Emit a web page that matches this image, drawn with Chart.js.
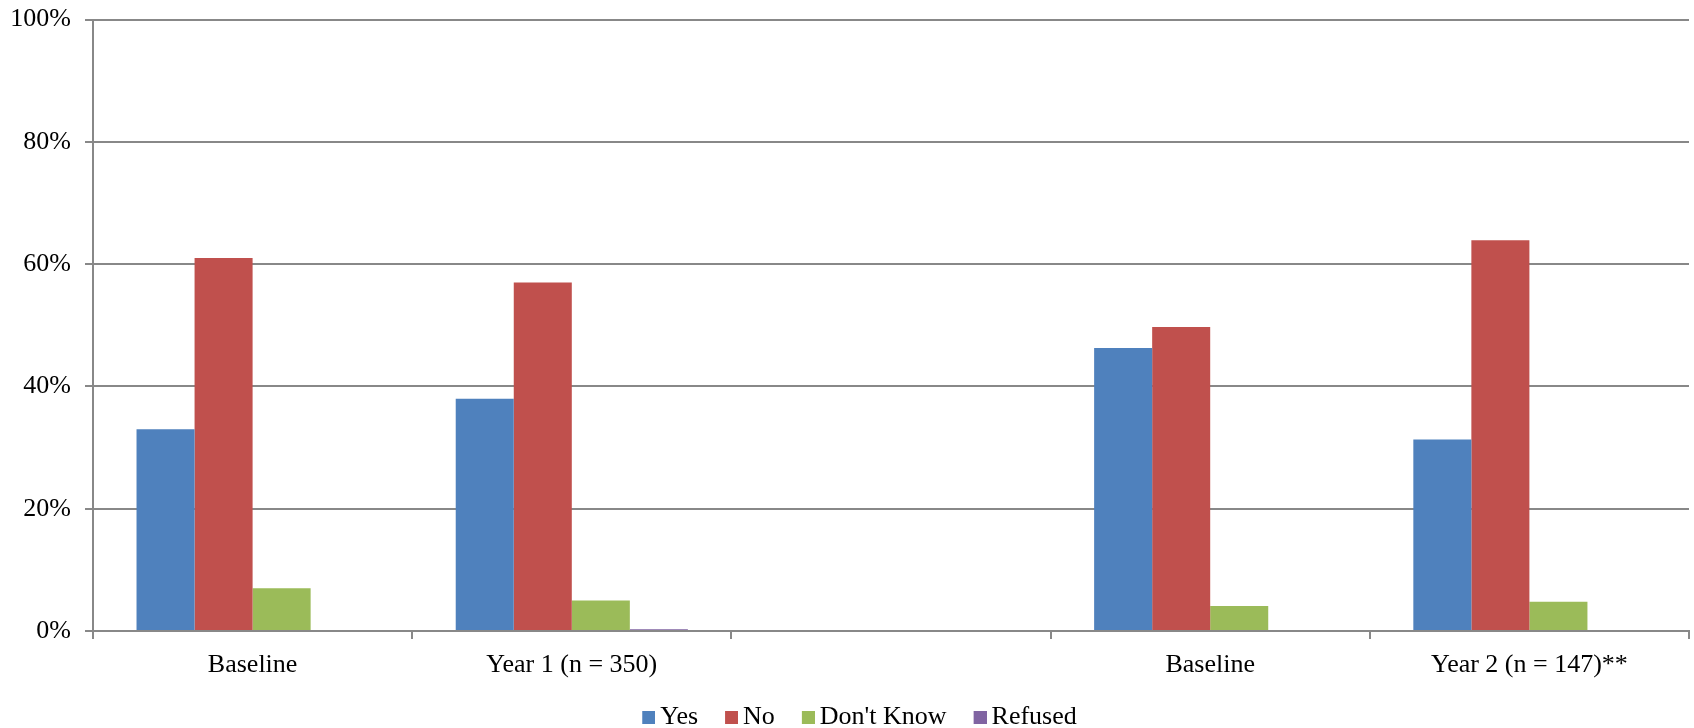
<!DOCTYPE html>
<html>
<head>
<meta charset="utf-8">
<script src="https://cdn.jsdelivr.net/npm/chart.js@4.4.1/dist/chart.umd.min.js"></script>
<style>
  html, body { margin: 0; padding: 0; background: #ffffff; }
  #wrap { width: 1694px; height: 728px; position: relative; }
</style>
</head>
<body>
<div id="wrap"><canvas id="chart"></canvas></div>
<script>
// Survey responses by wave, shown as share of respondents (%)
const categories = ["Baseline", "Year 1 (n = 350)", "", "Baseline", "Year 2 (n = 147)**"];
const yesValues = [33, 38, null, 46.3, 31.3];
const noValues = [61, 57, null, 49.7, 63.9];
const dontKnowValues = [7, 5, null, 4.1, 4.8];
const refusedValues = [0, 0.3, null, 0, 0];
const seriesNames = ["Yes", "No", "Don't Know", "Refused"];
const seriesColors = ["#4F81BD", "#C0504D", "#9BBB59", "#8064A2"];
const yTicks = [0, 20, 40, 60, 80, 100];

const serif = "'Liberation Serif', 'Times New Roman', serif";
const axisGray = "#888888";

const seriesValues = [yesValues, noValues, dontKnowValues, refusedValues];

// Legend swatch: a 13px square sitting at the right edge of a wider transparent
// canvas, so the square ends up close to its label text.
function makeSwatch(color) {
  const c = document.createElement("canvas");
  c.width = 29;
  c.height = 13;
  const g = c.getContext("2d");
  g.fillStyle = color;
  g.fillRect(16, 0, 13, 13);
  return c;
}
const swatches = seriesColors.map(makeSwatch);

// Nudge the centred legend row a little to the right of the canvas centre.
const legendShift = {
  id: "legendShift",
  afterLayout(chart) {
    if (chart.legend) {
      chart.legend.left += 11;
      chart.legend.right += 11;
    }
  }
};

new Chart(document.getElementById("chart"), {
  type: "bar",
  data: {
    labels: categories,
    datasets: seriesNames.map((name, i) => ({
      label: name,
      data: seriesValues[i],
      backgroundColor: seriesColors[i],
      borderWidth: 0,
      barPercentage: 1.0,
      categoryPercentage: 4 / 5.5
    }))
  },
  plugins: [legendShift],
  options: {
    responsive: true,
    maintainAspectRatio: false,
    animation: false,
    layout: { padding: { left: 0, right: 5, top: 0, bottom: -12 } },
    plugins: {
      tooltip: { enabled: false },
      legend: {
        position: "bottom",
        labels: {
          usePointStyle: true,
          boxWidth: 13,
          boxHeight: 13,
          padding: 19,
          color: "#000000",
          font: { family: serif, size: 26 },
          generateLabels: (chart) => {
            const items = Chart.defaults.plugins.legend.labels.generateLabels(chart);
            items.forEach((item, i) => { item.pointStyle = swatches[i]; });
            return items;
          }
        }
      }
    },
    scales: {
      x: {
        offset: true,
        grid: {
          offset: true,
          drawOnChartArea: false,
          drawTicks: true,
          tickLength: 8,
          color: axisGray,
          lineWidth: 2
        },
        border: { display: true, color: axisGray, width: 2 },
        ticks: {
          color: "#000000",
          font: { family: serif, size: 26 },
          padding: 11,
          maxRotation: 0,
          autoSkip: false
        },
        afterFit: (scale) => { scale.height = 54; }
      },
      y: {
        min: 0,
        max: 100,
        afterBuildTicks: (scale) => { scale.ticks = yTicks.map(v => ({ value: v })); },
        grid: {
          color: axisGray,
          lineWidth: 2,
          tickLength: 8,
          drawTicks: true
        },
        border: { display: true, color: axisGray, width: 2 },
        ticks: {
          color: "#000000",
          font: { family: serif, size: 26 },
          padding: 14,
          callback: (v) => v + "%"
        },
        afterFit: (scale) => {
          scale.width = 93;
          scale.paddingTop = 19.5;
        }
      }
    }
  }
});
</script>
</body>
</html>
